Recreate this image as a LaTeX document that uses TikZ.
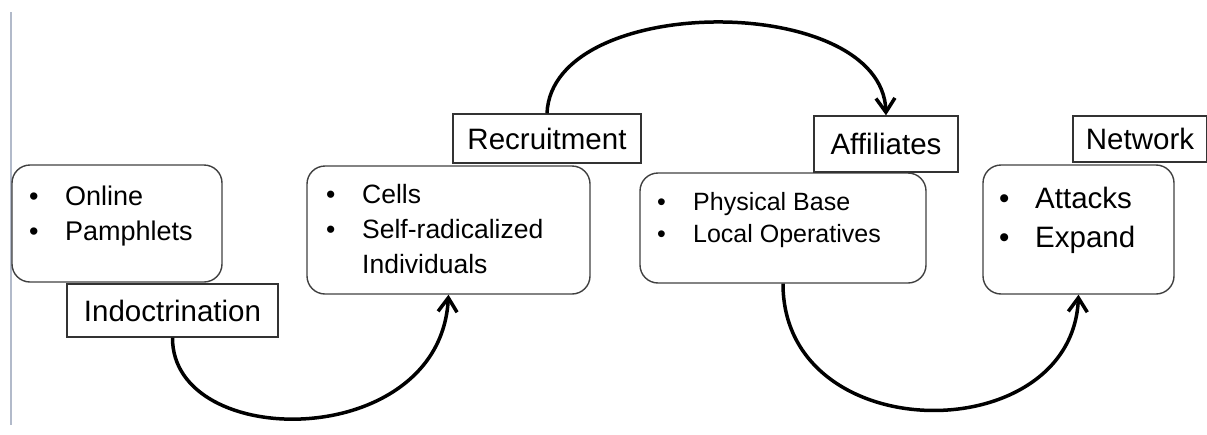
\documentclass[tikz,border=0pt]{standalone}
\usepackage{fontspec}
\setmainfont{Liberation Sans}
\usetikzlibrary{arrows.meta}
\definecolor{marginline}{RGB}{178,186,202}
\newcommand{\bul}[1]{\makebox[36pt][l]{\textbullet}#1}
\newcommand{\nobul}[1]{\makebox[36pt][l]{}#1}
\tikzset{stage box/.style={draw=black!75,line width=1.4pt,rounded corners=18pt,inner sep=0pt},
  tag box/.style={draw=black!80,line width=1.4pt,fill=white,inner sep=0pt,font=\fontsize{29.5}{34}\selectfont},
}

\begin{document}
\begin{tikzpicture}[x=1pt,y=-1pt,>={Straight Barb[length=14pt,width=19pt]},
		line text/.style={anchor=base west,inner sep=0pt},
		flow/.style={->,line width=3.5pt}]

		\useasboundingbox (0,0) rectangle (1207,434);
		\draw[marginline,line width=1.5pt] (11,12) -- (11,425);

		% rounded stage boxes
		\node[stage box,minimum width=210pt,minimum height=117pt] (src) at (117,223.5) {};
		\node[stage box,minimum width=283pt,minimum height=128pt] (cells) at (448.5,230) {};
		\node[stage box,minimum width=286pt,minimum height=110pt] (base) at (783,228) {};
		\node[stage box,minimum width=191pt,minimum height=129pt] (ops) at (1078.5,229.5) {};

		% tags
		\node[tag box,minimum width=211pt,minimum height=53pt] (indoc) at (172.5,310.5) {Indoctrination};
		\node[tag box,minimum width=188pt,minimum height=49pt] (recr) at (547,138.5) {Recruitment};
		\node[tag box,minimum width=144pt,minimum height=56pt] (affil) at (886,144) {Affiliates};
		\node[tag box,minimum width=134pt,minimum height=46pt] (netw) at (1140,139) {Network};

		% box contents
		\begin{scope}[every node/.style={font=\fontsize{27}{32}\selectfont}]
		\node[line text] (src1) at (29,205) {\bul{Online}};
		\node[line text] (src2) at (29,240) {\bul{Pamphlets}};
		\end{scope}
		\begin{scope}[every node/.style={font=\fontsize{26.5}{32}\selectfont}]
		\node[line text] (cells1) at (326,203) {\bul{Cells}};
		\node[line text] (cells2) at (326,238) {\bul{Self-radicalized}};
		\node[line text] (cells3) at (326,273) {\nobul{Individuals}};
		\end{scope}
		\begin{scope}[every node/.style={font=\fontsize{25}{30}\selectfont}]
		\node[line text] (base1) at (657,210) {\bul{Physical Base}};
		\node[line text] (base2) at (657,242) {\bul{Local Operatives}};
		\end{scope}
		\begin{scope}[every node/.style={font=\fontsize{29.5}{34}\selectfont}]
		\node[line text] (ops1) at (999,208) {\bul{Attacks}};
		\node[line text] (ops2) at (999,247) {\bul{Expand}};
		\end{scope}

		% flow arrows
		\draw[flow] (indoc.south) .. controls (172,452) and (440,452) .. (cells.south);
		\draw[flow] (recr.north) .. controls (552,-8) and (882,-8) .. (affil.north);
		\draw[flow] (base.south) .. controls (783,450) and (1072,450) .. (ops.south);
\end{tikzpicture}
\end{document}
